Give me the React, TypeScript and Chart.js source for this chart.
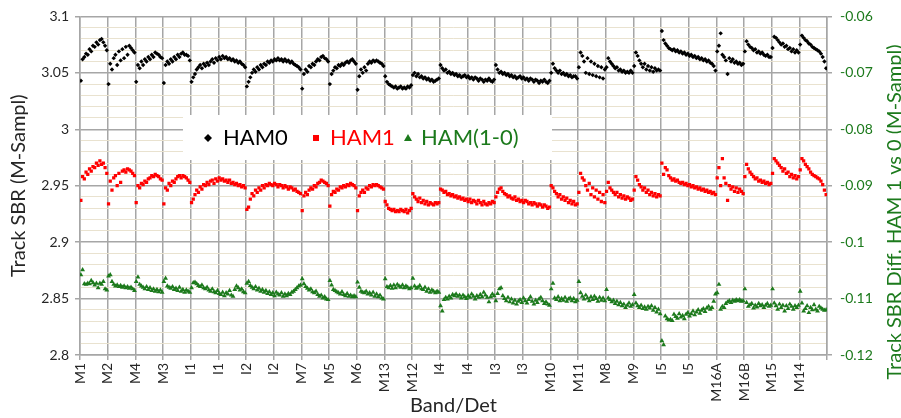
import React, { useEffect, useRef } from 'react';
import { Chart, registerables } from 'chart.js';

Chart.register(...registerables);

// Band labels, one per 16 detectors (I bands span two labels / 32 detectors)
const bandTicks = ['M1', 'M2', 'M4', 'M3', 'I1', 'I1', 'I2', 'I2', 'M7', 'M5', 'M6', 'M13', 'M12', 'I4', 'I4', 'I3', 'I3', 'M10', 'M11', 'M8', 'M9', 'I5', 'I5', 'M16A', 'M16B', 'M15', 'M14'];
const detPerTick = 16;

const seriesNames = ['HAM0', 'HAM1', 'HAM(1-0)'];
const leftTicks = { min: 2.8, max: 3.1, minorStep: 0.01, majorStep: 0.05 };
const rightTicks = { min: -0.12, max: -0.06, step: 0.01 };

// Track SBR, HAM side 0
const ham0 = [
  // M1
  3.043, 3.062, 3.064, 3.067, 3.066, 3.071, 3.069, 3.074, 3.073, 3.077, 3.075, 3.079, 3.080, 3.077, 3.074, 3.070,
  // M2
  3.040, 3.058, 3.053, 3.063, 3.066, 3.057, 3.069, 3.061, 3.071, 3.063, 3.073, 3.066, 3.074, 3.072, 3.070, 3.068,
  // M4
  3.042, 3.057, 3.054, 3.060, 3.057, 3.062, 3.060, 3.064, 3.062, 3.066, 3.064, 3.068, 3.067, 3.066, 3.064, 3.063,
  // M3
  3.041, 3.057, 3.060, 3.058, 3.062, 3.060, 3.064, 3.062, 3.066, 3.064, 3.067, 3.068, 3.066, 3.066, 3.065, 3.061,
  // I1
  3.042, 3.046, 3.049, 3.053, 3.055, 3.057, 3.054, 3.058, 3.056, 3.059, 3.057, 3.060, 3.062, 3.059, 3.063, 3.061,
  3.064, 3.062, 3.065, 3.063, 3.064, 3.062, 3.063, 3.061, 3.062, 3.060, 3.061, 3.059, 3.060, 3.058, 3.057, 3.055,
  // I2
  3.038, 3.042, 3.046, 3.050, 3.053, 3.051, 3.055, 3.053, 3.057, 3.055, 3.058, 3.057, 3.060, 3.059, 3.061, 3.060,
  3.062, 3.061, 3.063, 3.061, 3.062, 3.060, 3.062, 3.060, 3.061, 3.059, 3.060, 3.058, 3.057, 3.056, 3.055, 3.053,
  // M7
  3.036, 3.049, 3.053, 3.051, 3.056, 3.055, 3.058, 3.057, 3.060, 3.062, 3.061, 3.064, 3.065, 3.063, 3.062, 3.060,
  // M5
  3.040, 3.049, 3.052, 3.055, 3.054, 3.057, 3.056, 3.058, 3.057, 3.059, 3.060, 3.059, 3.061, 3.062, 3.060, 3.058,
  // M6
  3.035, 3.047, 3.053, 3.050, 3.055, 3.052, 3.058, 3.060, 3.059, 3.061, 3.060, 3.061, 3.060, 3.059, 3.058, 3.056,
  // M13
  3.047, 3.042, 3.040, 3.039, 3.038, 3.037, 3.038, 3.036, 3.037, 3.038, 3.036, 3.037, 3.036, 3.038, 3.037, 3.039,
  // M12
  3.048, 3.050, 3.047, 3.049, 3.046, 3.047, 3.045, 3.046, 3.044, 3.045, 3.043, 3.044, 3.042, 3.043, 3.044, 3.045,
  // I4
  3.057, 3.054, 3.052, 3.053, 3.050, 3.051, 3.049, 3.050, 3.048, 3.049, 3.047, 3.048, 3.046, 3.047, 3.048, 3.046,
  3.047, 3.045, 3.046, 3.044, 3.046, 3.045, 3.043, 3.045, 3.044, 3.042, 3.044, 3.043, 3.045, 3.043, 3.042, 3.044,
  // I3
  3.057, 3.053, 3.050, 3.051, 3.049, 3.050, 3.048, 3.049, 3.047, 3.048, 3.046, 3.047, 3.045, 3.046, 3.047, 3.045,
  3.046, 3.044, 3.045, 3.043, 3.045, 3.044, 3.042, 3.044, 3.043, 3.041, 3.043, 3.042, 3.044, 3.042, 3.041, 3.043,
  // M10
  3.050, 3.058, 3.054, 3.052, 3.050, 3.052, 3.049, 3.050, 3.048, 3.049, 3.047, 3.048, 3.046, 3.047, 3.047, 3.045,
  // M11
  3.055, 3.068, 3.065, 3.060, 3.050, 3.063, 3.049, 3.060, 3.048, 3.058, 3.047, 3.056, 3.046, 3.055, 3.045, 3.053,
  // M8
  3.055, 3.063, 3.060, 3.058, 3.056, 3.054, 3.055, 3.052, 3.053, 3.051, 3.052, 3.050, 3.051, 3.050, 3.052, 3.050,
  // M9
  3.056, 3.068, 3.065, 3.061, 3.058, 3.055, 3.058, 3.053, 3.056, 3.052, 3.055, 3.051, 3.054, 3.052, 3.053, 3.052,
  // I5
  3.087, 3.079, 3.076, 3.074, 3.072, 3.071, 3.070, 3.071, 3.069, 3.070, 3.068, 3.069, 3.067, 3.068, 3.066, 3.067,
  3.065, 3.066, 3.064, 3.065, 3.063, 3.064, 3.062, 3.063, 3.061, 3.062, 3.060, 3.061, 3.059, 3.058, 3.056, 3.052,
  // M16A
  3.069, 3.074, 3.085, 3.066, 3.064, 3.061, 3.049, 3.063, 3.060, 3.062, 3.059, 3.060, 3.058, 3.059, 3.057, 3.058,
  // M16B
  3.069, 3.078, 3.075, 3.073, 3.072, 3.070, 3.071, 3.068, 3.069, 3.067, 3.068, 3.066, 3.065, 3.066, 3.064, 3.064,
  // M15
  3.072, 3.082, 3.081, 3.079, 3.077, 3.075, 3.076, 3.073, 3.074, 3.071, 3.072, 3.069, 3.071, 3.068, 3.070, 3.068,
  // M14
  3.075, 3.083, 3.081, 3.079, 3.078, 3.076, 3.075, 3.073, 3.072, 3.071, 3.070, 3.069, 3.067, 3.064, 3.060, 3.054,
];

// Track SBR, HAM side 1
const ham1 = [
  // M1
  2.937, 2.958, 2.956, 2.962, 2.960, 2.965, 2.963, 2.967, 2.966, 2.970, 2.968, 2.972, 2.969, 2.970, 2.966, 2.961,
  // M2
  2.934, 2.954, 2.946, 2.957, 2.959, 2.950, 2.961, 2.953, 2.963, 2.964, 2.962, 2.965, 2.964, 2.963, 2.961, 2.959,
  // M4
  2.935, 2.950, 2.948, 2.952, 2.951, 2.954, 2.953, 2.956, 2.957, 2.959, 2.958, 2.960, 2.959, 2.958, 2.956, 2.955,
  // M3
  2.934, 2.948, 2.946, 2.952, 2.950, 2.954, 2.953, 2.956, 2.958, 2.959, 2.957, 2.959, 2.958, 2.957, 2.955, 2.953,
  // I1
  2.935, 2.938, 2.942, 2.946, 2.944, 2.949, 2.947, 2.951, 2.950, 2.953, 2.951, 2.954, 2.955, 2.952, 2.956, 2.954,
  2.957, 2.955, 2.956, 2.954, 2.955, 2.953, 2.955, 2.952, 2.953, 2.951, 2.952, 2.950, 2.951, 2.949, 2.950, 2.948,
  // I2
  2.929, 2.931, 2.938, 2.943, 2.941, 2.946, 2.944, 2.948, 2.946, 2.950, 2.948, 2.951, 2.950, 2.952, 2.951, 2.950,
  2.952, 2.951, 2.949, 2.951, 2.950, 2.948, 2.950, 2.949, 2.947, 2.949, 2.948, 2.946, 2.947, 2.945, 2.944, 2.943,
  // M7
  2.928, 2.941, 2.944, 2.942, 2.946, 2.948, 2.947, 2.950, 2.949, 2.952, 2.953, 2.955, 2.954, 2.953, 2.952, 2.950,
  // M5
  2.932, 2.942, 2.945, 2.944, 2.947, 2.946, 2.949, 2.948, 2.950, 2.949, 2.951, 2.950, 2.952, 2.951, 2.950, 2.948,
  // M6
  2.928, 2.941, 2.944, 2.946, 2.944, 2.948, 2.947, 2.950, 2.949, 2.951, 2.950, 2.951, 2.950, 2.949, 2.948, 2.947,
  // M13
  2.936, 2.933, 2.930, 2.929, 2.928, 2.929, 2.927, 2.928, 2.927, 2.929, 2.928, 2.927, 2.929, 2.926, 2.928, 2.930,
  // M12
  2.943, 2.940, 2.938, 2.936, 2.939, 2.935, 2.937, 2.934, 2.936, 2.933, 2.935, 2.934, 2.933, 2.935, 2.934, 2.935,
  // I4
  2.947, 2.946, 2.944, 2.945, 2.942, 2.943, 2.941, 2.942, 2.940, 2.941, 2.939, 2.940, 2.938, 2.939, 2.937, 2.938,
  2.936, 2.938, 2.935, 2.937, 2.936, 2.934, 2.937, 2.935, 2.933, 2.936, 2.934, 2.933, 2.935, 2.934, 2.936, 2.935,
  // I3
  2.940, 2.944, 2.947, 2.948, 2.945, 2.943, 2.942, 2.940, 2.941, 2.939, 2.938, 2.940, 2.937, 2.938, 2.936, 2.937,
  2.935, 2.937, 2.936, 2.934, 2.935, 2.933, 2.935, 2.934, 2.932, 2.934, 2.933, 2.931, 2.933, 2.932, 2.930, 2.931,
  // M10
  2.950, 2.948, 2.945, 2.943, 2.940, 2.942, 2.938, 2.940, 2.937, 2.939, 2.935, 2.937, 2.934, 2.936, 2.933, 2.934,
  // M11
  2.944, 2.961, 2.957, 2.955, 2.950, 2.946, 2.952, 2.942, 2.948, 2.940, 2.946, 2.938, 2.944, 2.936, 2.942, 2.935,
  // M8
  2.945, 2.953, 2.948, 2.946, 2.944, 2.942, 2.944, 2.940, 2.942, 2.939, 2.941, 2.938, 2.940, 2.939, 2.937, 2.938,
  // M9
  2.946, 2.958, 2.955, 2.951, 2.949, 2.946, 2.948, 2.944, 2.946, 2.942, 2.944, 2.941, 2.943, 2.940, 2.942, 2.941,
  // I5
  2.970, 2.960, 2.966, 2.964, 2.959, 2.957, 2.955, 2.956, 2.954, 2.955, 2.953, 2.952, 2.953, 2.951, 2.952, 2.950,
  2.951, 2.949, 2.950, 2.948, 2.949, 2.947, 2.948, 2.946, 2.947, 2.945, 2.946, 2.944, 2.945, 2.943, 2.944, 2.942,
  // M16A
  2.957, 2.966, 2.950, 2.974, 2.957, 2.952, 2.937, 2.950, 2.947, 2.949, 2.945, 2.948, 2.944, 2.947, 2.945, 2.943,
  // M16B
  2.958, 2.969, 2.965, 2.962, 2.960, 2.958, 2.956, 2.957, 2.954, 2.955, 2.953, 2.954, 2.952, 2.953, 2.951, 2.952,
  // M15
  2.961, 2.974, 2.972, 2.970, 2.968, 2.966, 2.963, 2.965, 2.961, 2.962, 2.958, 2.960, 2.957, 2.959, 2.956, 2.958,
  // M14
  2.964, 2.974, 2.972, 2.969, 2.967, 2.965, 2.962, 2.960, 2.959, 2.958, 2.957, 2.956, 2.954, 2.951, 2.946, 2.942,
];

// Difference HAM 1 - HAM 0 (secondary axis)
const hamDiff = [
  // M1
  -0.1058, -0.1049, -0.1074, -0.1075, -0.1073, -0.1074, -0.1068, -0.1072, -0.1076, -0.1073, -0.1081, -0.1073, -0.1075, -0.1070, -0.1083, -0.1085,
  // M2
  -0.1060, -0.1058, -0.1070, -0.1075, -0.1078, -0.1076, -0.1079, -0.1077, -0.1080, -0.1078, -0.1081, -0.1079, -0.1082, -0.1080, -0.1083, -0.1086,
  // M4
  -0.1070, -0.1062, -0.1075, -0.1078, -0.1080, -0.1083, -0.1079, -0.1084, -0.1081, -0.1086, -0.1083, -0.1087, -0.1084, -0.1088, -0.1085, -0.1089,
  // M3
  -0.1070, -0.1064, -0.1078, -0.1080, -0.1082, -0.1079, -0.1084, -0.1082, -0.1086, -0.1080, -0.1087, -0.1084, -0.1089, -0.1085, -0.1087, -0.1089,
  // I1
  -0.1081, -0.1072, -0.1071, -0.1074, -0.1077, -0.1079, -0.1076, -0.1081, -0.1083, -0.1080, -0.1085, -0.1087, -0.1083, -0.1088, -0.1090, -0.1086,
  -0.1091, -0.1093, -0.1089, -0.1095, -0.1090, -0.1092, -0.1086, -0.1094, -0.1096, -0.1084, -0.1078, -0.1081, -0.1085, -0.1083, -0.1088, -0.1090,
  // I2
  -0.1073, -0.1070, -0.1077, -0.1080, -0.1083, -0.1079, -0.1085, -0.1082, -0.1087, -0.1084, -0.1089, -0.1086, -0.1091, -0.1088, -0.1093, -0.1090,
  -0.1095, -0.1089, -0.1092, -0.1094, -0.1090, -0.1096, -0.1092, -0.1095, -0.1091, -0.1093, -0.1089, -0.1087, -0.1084, -0.1081, -0.1078, -0.1076,
  // M7
  -0.1065, -0.1074, -0.1079, -0.1082, -0.1085, -0.1083, -0.1088, -0.1090, -0.1087, -0.1093, -0.1096, -0.1094, -0.1099, -0.1097, -0.1101, -0.1102,
  // M5
  -0.1068, -0.1076, -0.1084, -0.1086, -0.1088, -0.1090, -0.1092, -0.1088, -0.1093, -0.1095, -0.1091, -0.1096, -0.1094, -0.1097, -0.1095, -0.1097,
  // M6
  -0.1071, -0.1080, -0.1087, -0.1089, -0.1090, -0.1087, -0.1092, -0.1090, -0.1094, -0.1089, -0.1096, -0.1092, -0.1097, -0.1094, -0.1099, -0.1101,
  // M13
  -0.1065, -0.1079, -0.1081, -0.1077, -0.1082, -0.1076, -0.1081, -0.1075, -0.1078, -0.1080, -0.1076, -0.1081, -0.1078, -0.1080, -0.1083, -0.1081,
  // M12
  -0.1064, -0.1078, -0.1082, -0.1080, -0.1077, -0.1083, -0.1084, -0.1080, -0.1087, -0.1083, -0.1089, -0.1085, -0.1087, -0.1090, -0.1087, -0.1089,
  // I4
  -0.1113, -0.1122, -0.1102, -0.1098, -0.1101, -0.1096, -0.1099, -0.1093, -0.1095, -0.1092, -0.1096, -0.1094, -0.1099, -0.1094, -0.1097, -0.1100,
  -0.1095, -0.1098, -0.1092, -0.1096, -0.1101, -0.1095, -0.1098, -0.1093, -0.1097, -0.1089, -0.1094, -0.1098, -0.1106, -0.1097, -0.1092, -0.1095,
  // I3
  -0.1104, -0.1091, -0.1083, -0.1081, -0.1095, -0.1100, -0.1104, -0.1098, -0.1106, -0.1101, -0.1108, -0.1103, -0.1110, -0.1105, -0.1102, -0.1107,
  -0.1099, -0.1104, -0.1108, -0.1102, -0.1097, -0.1105, -0.1110, -0.1103, -0.1107, -0.1101, -0.1098, -0.1104, -0.1109, -0.1106, -0.1110, -0.1112,
  // M10
  -0.1083, -0.1073, -0.1099, -0.1102, -0.1097, -0.1104, -0.1100, -0.1103, -0.1098, -0.1105, -0.1101, -0.1099, -0.1104, -0.1100, -0.1106, -0.1103,
  // M11
  -0.1070, -0.1090, -0.1096, -0.1101, -0.1094, -0.1099, -0.1104, -0.1097, -0.1102, -0.1096, -0.1100, -0.1105, -0.1098, -0.1103, -0.1099, -0.1104,
  // M8
  -0.1084, -0.1099, -0.1102, -0.1106, -0.1103, -0.1109, -0.1105, -0.1111, -0.1107, -0.1113, -0.1110, -0.1116, -0.1112, -0.1108, -0.1114, -0.1111,
  // M9
  -0.1093, -0.1108, -0.1113, -0.1116, -0.1112, -0.1118, -0.1115, -0.1119, -0.1114, -0.1117, -0.1113, -0.1121, -0.1116, -0.1124, -0.1119, -0.1127,
  // I5
  -0.1175, -0.1182, -0.1131, -0.1136, -0.1138, -0.1137, -0.1139, -0.1128, -0.1132, -0.1135, -0.1127, -0.1133, -0.1130, -0.1136, -0.1128, -0.1125,
  -0.1131, -0.1127, -0.1122, -0.1129, -0.1124, -0.1120, -0.1126, -0.1121, -0.1118, -0.1123, -0.1117, -0.1114, -0.1119, -0.1116, -0.1105, -0.1092,
  // M16A
  -0.1090, -0.1075, -0.1119, -0.1114, -0.1116, -0.1109, -0.1106, -0.1104, -0.1107, -0.1103, -0.1105, -0.1102, -0.1104, -0.1102, -0.1105, -0.1104,
  // M16B
  -0.1083, -0.1107, -0.1114, -0.1111, -0.1109, -0.1117, -0.1112, -0.1115, -0.1109, -0.1113, -0.1111, -0.1116, -0.1112, -0.1109, -0.1114, -0.1112,
  // M15
  -0.1083, -0.1108, -0.1113, -0.1119, -0.1110, -0.1116, -0.1112, -0.1122, -0.1113, -0.1118, -0.1110, -0.1114, -0.1119, -0.1113, -0.1116, -0.1112,
  // M14
  -0.1087, -0.1108, -0.1122, -0.1118, -0.1113, -0.1125, -0.1116, -0.1120, -0.1111, -0.1119, -0.1122, -0.1114, -0.1117, -0.1119, -0.1121, -0.1120,
];

const FONT = 'Lato, "Open Sans", sans-serif';
const GREEN = '#1c7a1c';
const GRID = '#a6a6a6';
const MINOR = '#e9e2cf';

const isMajor = (v: number) => Math.round(v * 100) % 5 === 0;
const fmt = (v: number) => String(Number(v.toFixed(2)));

// Legend inside the plot and the axis titles
const overlayPlugin = {
  id: 'overlay',
  afterDraw(chart: any) {
    const ctx: CanvasRenderingContext2D = chart.ctx;
    const area = chart.chartArea;
    ctx.save();

    // legend box
    ctx.fillStyle = '#ffffff';
    ctx.fillRect(183, 115, 369, 45);
    const ly = 138;
    ctx.font = `22px ${FONT}`;
    ctx.textBaseline = 'middle';
    ctx.textAlign = 'left';
    // HAM0
    ctx.fillStyle = '#000';
    ctx.beginPath();
    ctx.moveTo(208, ly - 4); ctx.lineTo(212, ly); ctx.lineTo(208, ly + 4); ctx.lineTo(204, ly); ctx.closePath();
    ctx.fill();
    ctx.fillText(seriesNames[0], 223, ly);
    // HAM1
    ctx.fillStyle = '#ff0000';
    ctx.fillRect(313, ly - 3, 6, 6);
    ctx.fillText(seriesNames[1], 330, ly);
    // HAM(1-0)
    ctx.fillStyle = GREEN;
    ctx.beginPath();
    ctx.moveTo(408, ly - 4); ctx.lineTo(412, ly + 3); ctx.lineTo(404, ly + 3); ctx.closePath();
    ctx.fill();
    ctx.fillText(seriesNames[2], 421, ly);

    // axis titles
    ctx.font = `20px ${FONT}`;
    ctx.textAlign = 'center';
    ctx.fillStyle = '#262626';
    ctx.fillText('Band/Det', (area.left + area.right) / 2, 406);

    ctx.save();
    ctx.translate(19, (area.top + area.bottom) / 2);
    ctx.rotate(-Math.PI / 2);
    ctx.fillText('Track SBR (M-Sampl)', 0, 0);
    ctx.restore();

    ctx.save();
    ctx.translate(895, 212);
    ctx.rotate(-Math.PI / 2);
    ctx.fillStyle = GREEN;
    ctx.fillText('Track SBR Diff. HAM 1 vs 0 (M-Sampl)', 0, 0);
    ctx.restore();

    ctx.restore();
  },
};

export default function App() {
  const canvasRef = useRef<HTMLCanvasElement | null>(null);

  useEffect(() => {
    const canvas = canvasRef.current;
    if (!canvas) return;
    const toPoints = (arr: number[]) => arr.map((v, i) => ({ x: i + 0.5, y: v }));
    const total = bandTicks.length * detPerTick;

    const chart = new Chart(canvas, {
      type: 'scatter',
      data: {
        datasets: [
          {
            label: seriesNames[0],
            data: toPoints(ham0),
            yAxisID: 'y',
            pointStyle: 'rectRot',
            pointRadius: 2.2,
            backgroundColor: '#000',
            borderColor: '#000',
            borderWidth: 0,
          },
          {
            label: seriesNames[1],
            data: toPoints(ham1),
            yAxisID: 'y',
            pointStyle: 'rect',
            pointRadius: 2.3,
            backgroundColor: '#ff0000',
            borderColor: '#ff0000',
            borderWidth: 0,
          },
          {
            label: seriesNames[2],
            data: toPoints(hamDiff),
            yAxisID: 'y2',
            pointStyle: 'triangle',
            pointRadius: 2.8,
            backgroundColor: GREEN,
            borderColor: GREEN,
            borderWidth: 0,
          },
        ],
      },
      options: {
        responsive: false,
        animation: false,
        devicePixelRatio: 1,
        layout: { padding: { top: 14, left: 0, right: 0, bottom: 0 } },
        plugins: {
          legend: { display: false },
          tooltip: { enabled: false },
        },
        scales: {
          x: {
            type: 'linear',
            position: 'bottom',
            min: 0,
            max: total,
            afterFit: (s: any) => { s.height = 63; },
            ticks: {
              stepSize: detPerTick,
              autoSkip: false,
              maxRotation: 90,
              minRotation: 90,
              padding: 3,
              color: '#262626',
              font: { family: FONT, size: 14 },
              callback: (v: any) => bandTicks[Math.round(Number(v) / detPerTick)] ?? '',
            },
            grid: { color: GRID, lineWidth: 1.5, tickLength: 5, tickColor: GRID },
            border: { color: GRID, width: 1.5 },
          },
          y: {
            type: 'linear',
            position: 'left',
            min: leftTicks.min,
            max: leftTicks.max,
            afterFit: (s: any) => { s.width = 80; },
            ticks: {
              stepSize: leftTicks.minorStep,
              autoSkip: false,
              padding: 6,
              color: '#262626',
              font: { family: FONT, size: 14 },
              callback: (v: any) => (isMajor(Number(v)) ? fmt(Number(v)) : ''),
            },
            grid: {
              color: (c: any) => (c.tick && isMajor(c.tick.value) ? GRID : MINOR),
              lineWidth: (c: any) => (c.tick && isMajor(c.tick.value) ? 1.5 : 1),
              tickColor: (c: any) => (c.tick && isMajor(c.tick.value) ? GRID : 'rgba(0,0,0,0)'),
              tickLength: 5,
            },
            border: { color: GRID, width: 1.5 },
          },
          y2: {
            type: 'linear',
            position: 'right',
            min: rightTicks.min,
            max: rightTicks.max,
            afterFit: (s: any) => { s.width = 74; },
            ticks: {
              stepSize: rightTicks.step,
              autoSkip: false,
              padding: 8,
              color: GREEN,
              font: { family: FONT, size: 14 },
              callback: (v: any) => fmt(Number(v)),
            },
            grid: { drawOnChartArea: false, color: GRID, tickLength: 5, lineWidth: 1.5 },
            border: { color: GRID, width: 1.5 },
          },
        },
      },
      plugins: [overlayPlugin],
    });

    return () => chart.destroy();
  }, []);

  return (
    <canvas
      ref={canvasRef}
      width={901}
      height={418}
      style={{ position: 'fixed', left: 0, top: 0, width: '901px', height: '418px', background: '#fff' }}
    />
  );
}
